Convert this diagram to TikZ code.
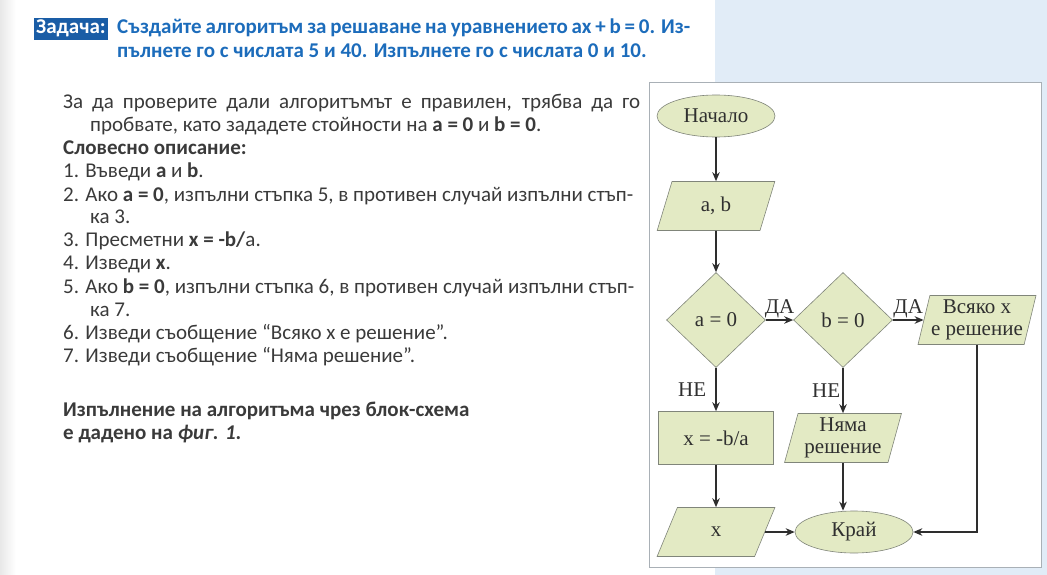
\documentclass[tikz,border=0pt]{standalone}
\usepackage{fontspec}
\setmainfont{Liberation Serif}
\newfontfamily\bodyfont{Carlito}
\usetikzlibrary{shapes.geometric,arrows.meta}
\definecolor{boxgreen}{HTML}{E3EAC4}
\definecolor{edgegray}{HTML}{80857A}
\definecolor{arrowgray}{HTML}{2E2E2E}
\definecolor{textgray}{HTML}{2F2F2F}
\definecolor{bodygray}{HTML}{3A3A3A}
\definecolor{titleblue}{HTML}{1C6CBB}
\definecolor{tagblue}{HTML}{1A5DA6}
\definecolor{panelblue}{HTML}{E1ECF7}
\definecolor{framegray}{HTML}{A9B0B6}

\begin{document}
\begin{tikzpicture}[x=1pt, y=-1pt,
    every node/.style={font=\fontsize{21}{25}\selectfont, text=textgray},
    block/.style={draw=edgegray, fill=boxgreen, line width=0.6pt, align=center, inner sep=0pt},
    oval/.style={block, ellipse, minimum width=118pt, minimum height=42pt},
    io/.style={block, trapezium, trapezium left angle=74, trapezium right angle=106,
        trapezium stretches=true, minimum width=118pt, minimum height=49pt},
    proc/.style={block, rectangle, minimum width=115pt, minimum height=53pt},
    cond/.style={block, diamond, minimum width=99pt, minimum height=95pt},
    flow/.style={-{Stealth[length=9pt,width=7.5pt]}, line width=1.8pt, draw=arrowgray},
    txt/.style={font=\bodyfont\fontsize{21}{25}\selectfont, anchor=base west, inner sep=0pt, text=bodygray},
    ttl/.style={font=\bodyfont\bfseries\fontsize{21}{25}\selectfont, anchor=base west, inner sep=0pt, text=titleblue}]
    \useasboundingbox (0,0) rectangle (1047,575);

    % Page background
    \shade[left color=black!9, right color=white] (0,0) rectangle (16,575);
    \fill[panelblue] (715,0) rectangle (1047,575);
    \draw[draw=framegray, fill=white, line width=0.8pt] (649,82) rectangle (1041,567);

    % Task
    \node[fill=tagblue, text=white, font=\bodyfont\bfseries\fontsize{21}{25}\selectfont,
        inner xsep=2pt, inner ysep=2.5pt, anchor=base west] (tag) at (34,34) {Задача:};
    \node[ttl] (t1) at (117,34) {\makebox[573pt][s]{Създайте алгоритъм за решаване на уравнението ax + b = 0. Из-}};
    \node[ttl] (t2) at (117,58) {пълнете го с числата 5 и 40. Изпълнете го с числата 0 и 10.};

    % Description
    \node[txt] (l1) at (63,109) {\makebox[577pt][s]{За да проверите дали алгоритъмът е правилен, трябва да го}};
    \node[txt] (l2) at (90,132) {пробвате, като зададете стойности на \textbf{a = 0} и \textbf{b = 0}.};
    \node[txt] (l3) at (63,155) {\textbf{Словесно описание:}};
    \node[txt] (l4) at (63,178) {1. Въведи \textbf{a} и \textbf{b}.};
    \node[txt] (l5) at (63,201) {2. Ако \textbf{a = 0}, изпълни стъпка 5, в противен случай изпълни стъп-};
    \node[txt] (l6) at (90,223) {ка 3.};
    \node[txt] (l7) at (63,246) {3. Пресметни \textbf{x = -b/}а.};
    \node[txt] (l8) at (63,269) {4. Изведи \textbf{x}.};
    \node[txt] (l9) at (63,293) {5. Ако \textbf{b = 0}, изпълни стъпка 6, в противен случай изпълни стъп-};
    \node[txt] (l10) at (90,316) {ка 7.};
    \node[txt] (l11) at (63,339) {6. Изведи съобщение “Всяко x е решение”.};
    \node[txt] (l12) at (63,362) {7. Изведи съобщение “Няма решение”.};
    \node[txt] (l13) at (63,416) {\textbf{Изпълнение на алгоритъма чрез блок-схема}};
    \node[txt] (l14) at (63,439) {\textbf{е дадено на \textit{фиг. 1}.}};

    % Flowchart
    \node[oval] (start) at (716,116) {Начало};
    \node[io] (ab) at (716,206) {a, b};
    \node[cond] (a0) at (716,320) {a = 0};
    \node[cond] (b0) at (843,320) {b = 0};
    \node[io] (all) at (977,320) {Всяко x\\[-3pt]е решение};
    \node[proc] (calc) at (716,438) {x = -b/a};
    \node[io] (none) at (843,438) {Няма\\[-3pt]решение};
    \node[io] (xout) at (716,532) {x};
    \node[oval] (end) at (854,532) {Край};

    % Connections
    \draw[flow] (start) -- (ab);
    \draw[flow] (ab) -- (a0);
    \draw[flow] (a0) -- node[above, inner sep=1pt] (yes1) {ДА} (b0);
    \draw[flow] (b0) -- node[above, inner sep=1pt] (yes2) {ДА} (all);
    \draw[flow] (a0) -- node[left, inner sep=9pt] (no1) {НЕ} (calc);
    \draw[flow] (b0) -- node[left, inner sep=2pt] (no2) {НЕ} (none);
    \draw[flow] (calc) -- (xout);
    \draw[flow] (none.south) -- (none.south |- end.north);
    \draw[flow] (xout) -- (end);
    \draw[flow] (all.south) |- (end.east);
\end{tikzpicture}
\end{document}
